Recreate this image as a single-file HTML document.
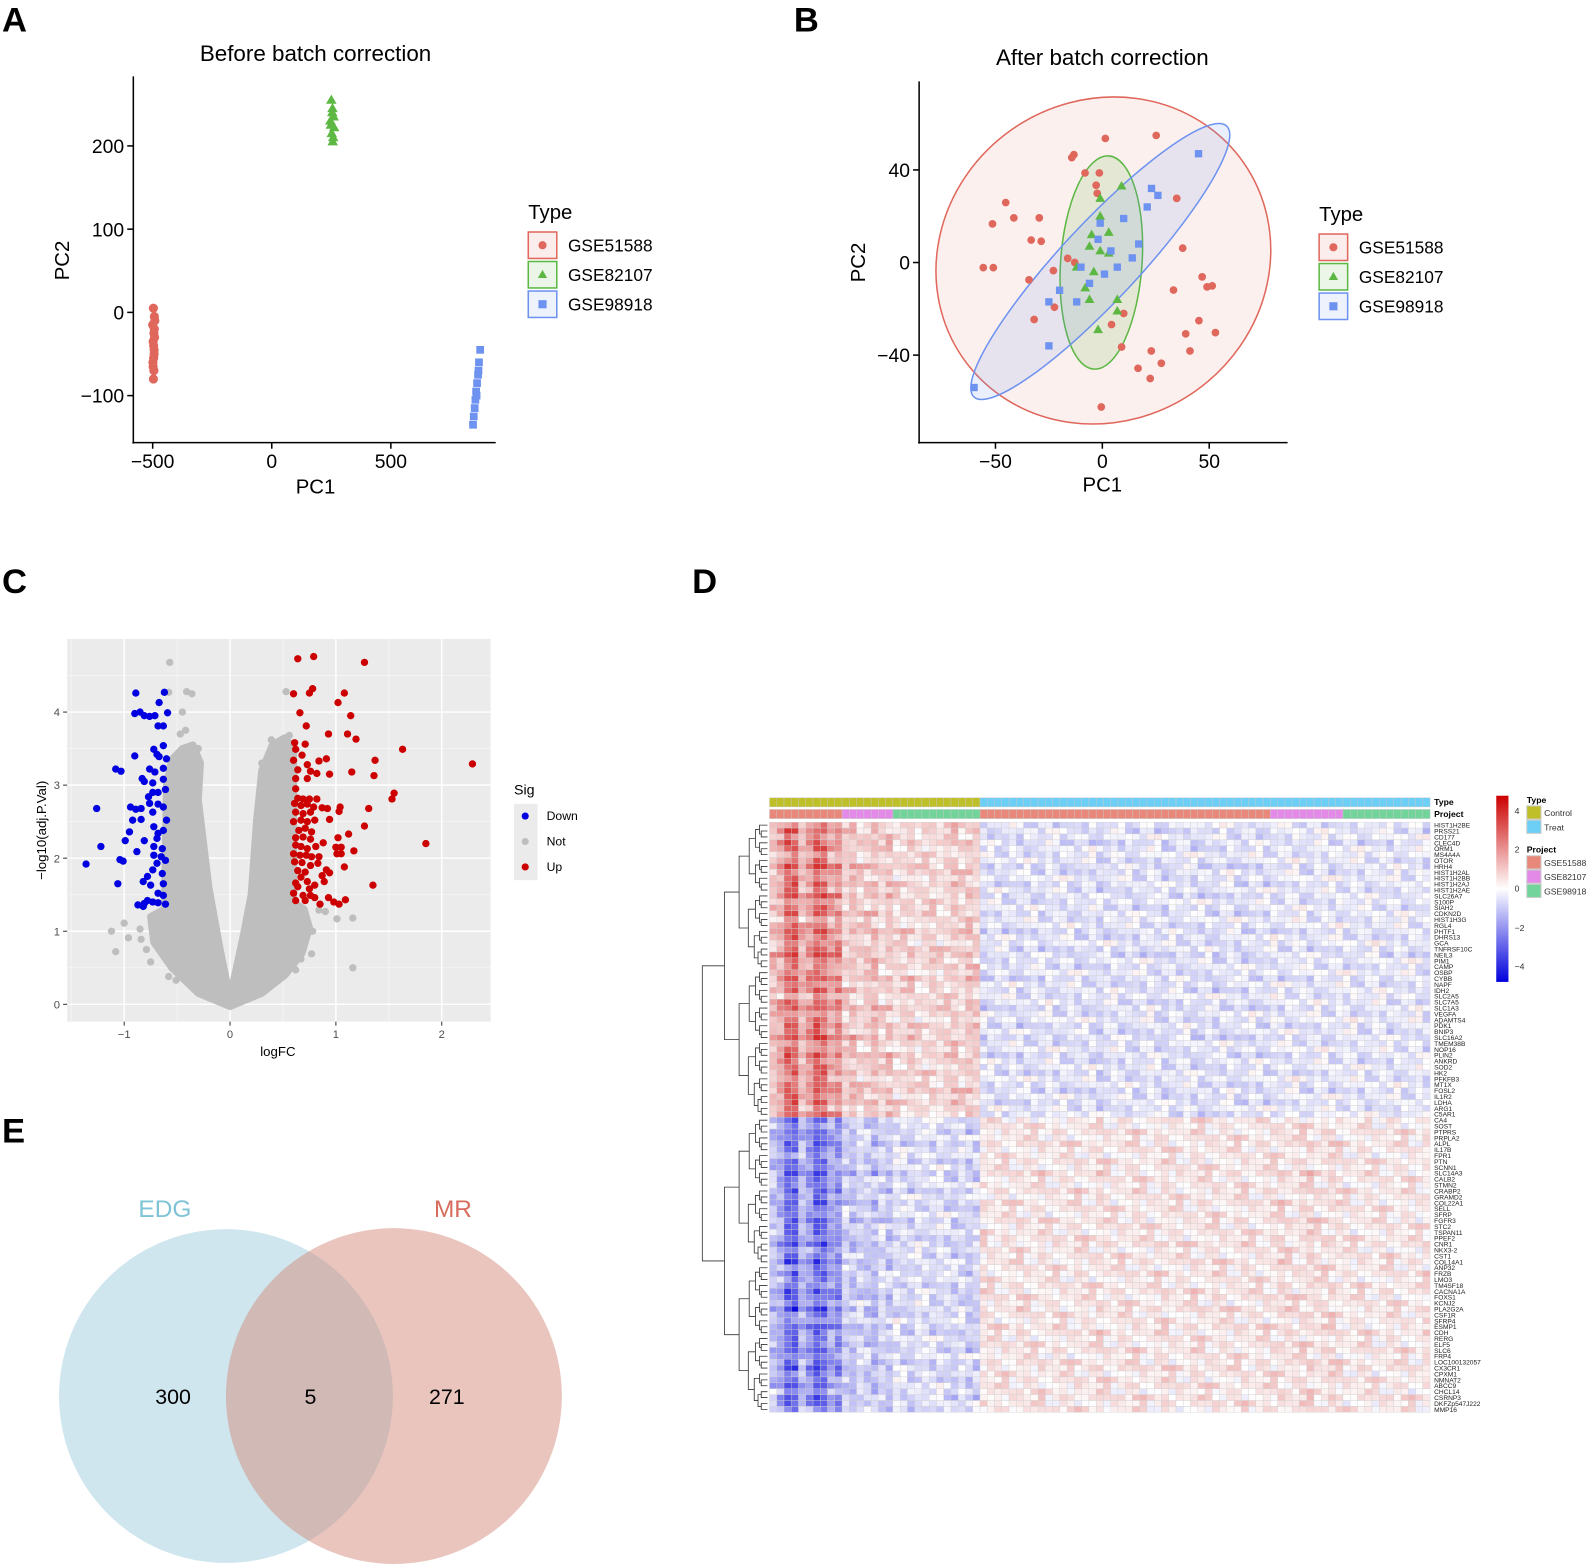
<!DOCTYPE html>
<html><head><meta charset="utf-8">
<style>
html,body{margin:0;padding:0;background:#fff;}
svg{display:block;font-family:"Liberation Sans",Arial,sans-serif;}
</style></head>
<body>
<svg id="fig" width="1596" height="1567" viewBox="0 0 1568 1540" preserveAspectRatio="none" xmlns="http://www.w3.org/2000/svg">
<!-- Panel A -->
<g>
<text x="2" y="31" font-size="34" font-weight="bold">A</text>
<text x="310" y="60" font-size="22" text-anchor="middle">Before batch correction</text>
<line x1="131" y1="75" x2="131" y2="436" stroke="#000" stroke-width="1.5"/>
<line x1="130" y1="435" x2="487" y2="435" stroke="#000" stroke-width="1.5"/>
<text x="310" y="485" font-size="20" text-anchor="middle">PC1</text>
<text transform="translate(68,256) rotate(-90)" font-size="20" text-anchor="middle">PC2</text>
<g id="axA"></g>
<g id="ptsA"></g>
<text x="519" y="215" font-size="20">Type</text>
<g id="legA"></g>
</g>
<!-- Panel B -->
<g>
<text x="780" y="31" font-size="34" font-weight="bold">B</text>
<text x="1083" y="64" font-size="22" text-anchor="middle">After batch correction</text>
<g id="ellB"></g>
<line x1="903" y1="80" x2="903" y2="436" stroke="#000" stroke-width="1.5"/>
<line x1="902" y1="435" x2="1265" y2="435" stroke="#000" stroke-width="1.5"/>
<text x="1083" y="483" font-size="20" text-anchor="middle">PC1</text>
<text transform="translate(850,258) rotate(-90)" font-size="20" text-anchor="middle">PC2</text>
<g id="axB"></g>
<g id="ptsB"></g>
<text x="1296" y="217" font-size="20">Type</text>
<g id="legB"></g>
</g>
<!-- Panel C -->
<g>
<text x="2" y="583" font-size="34" font-weight="bold">C</text>
<rect x="66" y="628" width="416" height="376" fill="#ebebeb"/>
<g id="gridC"></g>
<g id="ptsC"></g>
<text x="273" y="1038" font-size="13" text-anchor="middle">logFC</text>
<text transform="translate(45,816) rotate(-90)" font-size="13" text-anchor="middle">−log10(adj.P.Val)</text>
<text x="505" y="781" font-size="14">Sig</text>
<rect x="505" y="790" width="23" height="75" fill="#ebebeb"/>
<circle cx="516" cy="802" r="3.5" fill="#0000e0"/>
<circle cx="516" cy="827" r="3.5" fill="#bebebe"/>
<circle cx="516" cy="852" r="3.5" fill="#cc0000"/>
<text x="537" y="806" font-size="12">Down</text>
<text x="537" y="831" font-size="12">Not</text>
<text x="537" y="856" font-size="12">Up</text>
</g>
<!-- Panel D -->
<g>
<text x="680" y="583" font-size="34" font-weight="bold">D</text>
<g id="dendro"></g>
<g id="annot"></g>
<g id="heat"></g>
<g id="genes"></g>
<text x="1409" y="791" font-size="8.5" font-weight="bold">Type</text>
<text x="1409" y="803" font-size="8.5" font-weight="bold">Project</text>
<defs><linearGradient id="cbar" x1="0" y1="0" x2="0" y2="1">
<stop offset="0" stop-color="#cc0000"/><stop offset="0.5" stop-color="#ffffff"/><stop offset="1" stop-color="#0000dd"/></linearGradient></defs>
<rect x="1470" y="782" width="12" height="183" fill="url(#cbar)"/>
<g font-size="8.5" fill="#333">
<text x="1488" y="800">4</text>
<text x="1488" y="838">2</text>
<text x="1488" y="876">0</text>
<text x="1488" y="915">−2</text>
<text x="1488" y="953">−4</text>
</g>
<text x="1500" y="789" font-size="8.5" font-weight="bold">Type</text>
<rect x="1500" y="792" width="14" height="13" fill="#bfbf2a" stroke="#ccc"/>
<text x="1517" y="802" font-size="8.5" fill="#333">Control</text>
<rect x="1500" y="806" width="14" height="13" fill="#6dcff6" stroke="#ccc"/>
<text x="1517" y="816" font-size="8.5" fill="#333">Treat</text>
<text x="1500" y="838" font-size="8.5" font-weight="bold">Project</text>
<rect x="1500" y="841" width="14" height="13" fill="#e8887a" stroke="#ccc"/>
<text x="1517" y="851" font-size="8.5" fill="#333">GSE51588</text>
<rect x="1500" y="855" width="14" height="13" fill="#e38ae8" stroke="#ccc"/>
<text x="1517" y="865" font-size="8.5" fill="#333">GSE82107</text>
<rect x="1500" y="869" width="14" height="13" fill="#72d49a" stroke="#ccc"/>
<text x="1517" y="879" font-size="8.5" fill="#333">GSE98918</text>
</g>
<!-- Panel E -->
<g>
<text x="2" y="1123" font-size="34" font-weight="bold">E</text>
<circle cx="222" cy="1372" r="164" fill="#9fcde0" fill-opacity="0.5"/>
<circle cx="387" cy="1372" r="165" fill="#d48b7d" fill-opacity="0.5"/>
<text x="162" y="1196" font-size="24" fill="#7ec3d6" text-anchor="middle">EDG</text>
<text x="445" y="1196" font-size="24" fill="#d76d5c" text-anchor="middle">MR</text>
<text x="170" y="1380" font-size="21" text-anchor="middle">300</text>
<text x="305" y="1380" font-size="21" text-anchor="middle">5</text>
<text x="439" y="1380" font-size="21" text-anchor="middle">271</text>
</g>
</svg>
<script>
const NS="http://www.w3.org/2000/svg";
function mk(tag,attrs,parent){const e=document.createElementNS(NS,tag);for(const k in attrs)e.setAttribute(k,attrs[k]);parent.appendChild(e);return e;}
const $=id=>document.getElementById(id);

/* ---------- Panel A data ---------- */
const aRedPC1=[-497,-493,-500,-495,-491,-498,-494,-496,-492,-499,-495,-497,-493,-496,-494,-498];
const aRedPC2=[5,-5,-15,-25,-10,-35,-45,-55,-30,-60,-70,-80,-20,-40,-50,-65];
const aGreenPC1=[250,255,260,248,252,258,254,246,262,256];
const aGreenPC2=[255,245,235,225,215,210,240,230,222,205];
const aBluePC1=[875,870,866,862,858,855,852,848,845,868,860];
const aBluePC2=[-45,-60,-75,-85,-95,-105,-115,-125,-135,-70,-100];
const aXTicks=[-500,0,500];
const aYTicks=[-100,0,100,200];
const ax=v=>267+v*0.234, ay=v=>307-v*0.818;

/* ---------- Panel B data ---------- */
const bRedPC1=[-13.3,-14.3,1.4,25.2,-45.2,-51.4,-41.4,-29.5,-8.1,-2.9,-2.4,-33.3,-28.6,-55.7,-51,-34.3,-16.2,-12.9,-22.9,34.8,37.6,46.7,49,51.4,33.3,45.2,52.9,39,4.3,9,22.9,27.6,22.4,16.7,-0.5,41,-31.9,-22.4,10,-1.4];
const bRedPC2=[46.6,45.3,53.6,54.9,25.9,16.7,19.3,19.3,38.7,33.4,29.9,9.7,9.2,-2.2,-2.2,-7.5,1.8,0,-3.5,27.7,6.2,-6.2,-10.5,-10.1,-11.9,-25.1,-30.3,-30.8,-26.8,-36.5,-38.2,-43.5,-50.1,-45.7,-62.4,-38.2,-24.6,-19.3,-22,38.7];
const bGreenPC1=[9,-1,-1,-5,3,-6,-12,-4,-8,-6,7,7,-2,-1,3];
const bGreenPC2=[33,27.7,20,12,13,7,-2,-4,-11,-16,-16,-21,-29,5,4];
const bBluePC1=[45,23,26,21,10,-1,-2,4,17,14,7,1,-20,-25,-12,-25,-60,-10,-6];
const bBluePC2=[47,32,29,24,19,17,10,5,8,2,-2,-5,-12,-17,-17,-36,-54,-2,-9];
const bXTicks=[-50,0,50];
const bYTicks=[-40,0,40];
const bx=v=>1083+v*2.1, by=v=>258-v*2.275;

const cRed="#e0675c", cGreen="#5cb843", cBlue="#6d92f0";

function marker(g,shape,x,y,col,s){
  let e;
  if(shape==="c") e=mk("circle",{cx:x,cy:y,r:s,fill:col},g);
  else if(shape==="t") e=mk("polygon",{points:`${x},${y-s*1.2} ${x-s*1.15},${y+s*0.8} ${x+s*1.15},${y+s*0.8}`,fill:col},g);
  else e=mk("rect",{x:x-s,y:y-s,width:2*s,height:2*s,fill:col},g);
  return e;
}
function ticks(g,xt,yt,fx,fy,x0,y0,fs){
  xt.forEach(v=>{const l=mk("line",{x1:fx(v),x2:fx(v),y1:y0,y2:y0+6,stroke:"#000","stroke-width":1.5},g);
    
    
    const t=mk("text",{x:fx(v),y:y0+25,"font-size":fs,"text-anchor":"middle"},g);t.textContent=(v<0?"−"+(-v):v);
    
    });
  yt.forEach(v=>{const l=mk("line",{x1:x0-6,x2:x0,y1:fy(v),y2:fy(v),stroke:"#000","stroke-width":1.5},g);
    
    
    const t=mk("text",{x:x0-9,y:fy(v)+7,"font-size":fs,"text-anchor":"end"},g);t.textContent=(v<0?"−"+(-v):v);
    
    });
}
ticks($("axA"),aXTicks,aYTicks,ax,ay,131,435,19);
ticks($("axB"),bXTicks,bYTicks,bx,by,903,435,19);

function series(g,X,Y,fx,fy,shape,col,s,name){
  X.forEach((v,i)=>{const e=marker(g,shape,fx(v),fy(Y[i]),col,s);
    
    });
}
series($("ptsA"),aRedPC1,aRedPC2,ax,ay,"c",cRed,4.5,"point-gse51588");
series($("ptsA"),aGreenPC1,aGreenPC2,ax,ay,"t",cGreen,4.5,"point-gse82107");
series($("ptsA"),aBluePC1,aBluePC2,ax,ay,"s",cBlue,3.8,"point-gse98918");

const eg=$("ellB");
let el=mk("ellipse",{cx:1084,cy:256,rx:168,ry:157,transform:"rotate(-35 1084 256)",fill:cRed,"fill-opacity":0.1,stroke:cRed,"stroke-width":1.5},eg);


el=mk("ellipse",{cx:1082,cy:258,rx:40,ry:105,transform:"rotate(4 1082 258)",fill:cGreen,"fill-opacity":0.15,stroke:cGreen,"stroke-width":1.5},eg);


el=mk("ellipse",{cx:1081,cy:257,rx:182,ry:38,transform:"rotate(-47 1081 257)",fill:cBlue,"fill-opacity":0.15,stroke:cBlue,"stroke-width":1.5},eg);


series($("ptsB"),bRedPC1,bRedPC2,bx,by,"c",cRed,3.8,"point-gse51588");
series($("ptsB"),bGreenPC1,bGreenPC2,bx,by,"t",cGreen,4.2,"point-gse82107");
series($("ptsB"),bBluePC1,bBluePC2,bx,by,"s",cBlue,3.6,"point-gse98918");

const legNames=["GSE51588","GSE82107","GSE98918"],legCols=[cRed,cGreen,cBlue],legShapes=["c","t","s"];
function legend(g,x,y0){
  legNames.forEach((n,i)=>{const y=y0+i*29;
    const r=mk("rect",{x:x,y:y-13,width:28,height:26,fill:legCols[i],"fill-opacity":0.12,stroke:legCols[i],"stroke-width":1.5},g);
    
    
    const m=marker(g,legShapes[i],x+14,y,legCols[i],4);
    
    
    const t=mk("text",{x:x+39,y:y+6,"font-size":17},g);t.textContent=n;
    
    });
}
legend($("legA"),519,241);
legend($("legB"),1296,243);

/* ---------- Panel C data ---------- */
const downFC=[-0.89,-0.62,-0.67,-0.9,-0.85,-0.81,-0.76,-0.71,-0.59,-0.68,-0.63,-0.72,-0.63,-0.9,-0.69,-0.67,-0.6,-1.08,-1.03,-0.76,-0.71,-0.63,-0.83,-0.81,-0.73,-0.63,-0.73,-0.68,-0.61,-0.77,-0.76,-0.68,-1.26,-0.94,-0.89,-0.84,-0.73,-0.63,-0.92,-0.84,-0.6,-0.95,-0.72,-0.68,-0.63,-0.99,-0.81,-0.69,-1.22,-0.88,-0.72,-0.64,-1.04,-0.72,-0.65,-1.36,-1.01,-0.69,-0.61,-0.73,-0.64,-0.78,-1.06,-0.82,-0.75,-0.63,-0.63,-0.68,-0.87,-0.81,-0.78,-0.73,-0.68,-0.61,-0.82];
const downP=[4.26,4.27,4.13,3.98,4.0,3.95,3.94,3.95,3.99,3.81,3.81,3.49,3.54,3.4,3.42,3.39,3.36,3.22,3.19,3.22,3.18,3.23,3.09,3.05,3.03,3.08,2.9,2.9,2.94,2.84,2.75,2.74,2.68,2.7,2.67,2.68,2.63,2.7,2.52,2.53,2.52,2.36,2.43,2.34,2.38,2.24,2.24,2.27,2.16,2.09,2.16,2.13,1.98,2.04,2.02,1.92,1.96,1.93,1.97,1.84,1.79,1.75,1.65,1.68,1.63,1.65,1.49,1.52,1.36,1.38,1.42,1.4,1.39,1.37,1.34];
const upFC=[0.64,0.79,1.27,0.6,0.75,0.78,1.08,1.02,0.66,1.14,0.72,0.93,1.11,1.19,0.61,0.71,1.63,0.62,0.68,0.91,0.6,0.84,1.37,0.73,0.64,0.76,0.94,1.15,0.82,1.36,2.29,0.62,0.73,0.62,1.55,1.53,0.64,0.69,0.75,0.82,0.61,0.67,0.73,0.79,0.87,0.92,1.04,1.31,0.62,0.69,0.76,1.03,0.6,0.67,0.73,0.8,0.94,0.65,0.71,0.77,1.27,0.62,0.69,0.76,1.02,1.12,0.88,0.62,0.67,0.73,0.81,1.0,1.05,1.17,1.85,0.6,0.66,0.72,0.77,0.84,1.01,1.05,0.61,0.68,0.76,0.83,1.08,0.64,0.71,0.91,0.94,0.87,0.67,0.62,0.73,0.89,1.35,0.8,0.64,0.75,0.6,0.69,0.76,0.8,0.93,0.62,0.71,0.85,0.98,1.03,1.09];
const upP=[4.73,4.76,4.68,4.25,4.26,4.32,4.26,4.13,3.99,3.95,3.81,3.7,3.7,3.63,3.58,3.56,3.49,3.49,3.41,3.36,3.34,3.33,3.34,3.28,3.21,3.19,3.15,3.18,3.16,3.13,3.29,3.09,3.09,2.95,2.89,2.81,2.82,2.81,2.81,2.81,2.75,2.72,2.74,2.7,2.69,2.68,2.7,2.68,2.63,2.61,2.63,2.64,2.5,2.52,2.5,2.52,2.53,2.38,2.41,2.36,2.44,2.28,2.29,2.26,2.28,2.33,2.21,2.18,2.16,2.13,2.16,2.15,2.15,2.1,2.2,2.06,2.04,2.04,2.02,2.02,2.06,2.06,1.95,1.94,1.9,1.93,1.88,1.83,1.81,1.84,1.8,1.76,1.74,1.66,1.68,1.68,1.63,1.63,1.61,1.58,1.52,1.49,1.49,1.46,1.46,1.42,1.42,1.37,1.4,1.37,1.43];
const notFC=[-0.57,-0.58,-0.41,-0.36,-0.45,-0.47,-0.42,0.53,0.39,0.56,-1.0,-1.12,-1.08,-0.96,-0.85,-0.84,-0.79,-0.75,-0.71,0.78,0.77,0.67,1.16,1.01,1.16,0.9,0.84,-0.58,-0.51,0.62,-0.52,-0.5,0.45,0.48,-0.4,0.3,-0.3];
const notP=[4.68,4.27,4.28,4.25,4.0,3.7,3.75,4.28,3.62,3.68,1.11,1.0,0.72,0.91,1.03,0.89,0.75,0.58,0.83,1.0,0.69,0.62,1.18,1.17,0.5,1.27,1.29,0.38,0.33,0.47,3.2,2.9,3.3,3.1,3.45,3.3,3.5];
const cloudFC=[0,-0.3,-0.55,-0.72,-0.75,-0.62,-0.6,-0.55,-0.45,-0.35,-0.28,-0.3,-0.2,-0.1,-0.03,0,0.03,0.12,0.2,0.25,0.3,0.4,0.52,0.6,0.6,0.7,0.75,0.68,0.52,0.3];
const cloudP=[-0.03,0.15,0.5,0.85,1.2,1.3,3.0,3.35,3.5,3.55,3.3,2.8,1.6,0.8,0.3,0.1,0.3,0.9,1.5,2.5,3.2,3.55,3.65,3.5,1.4,1.3,1.05,0.7,0.4,0.15];
const cXTicks=[-1,0,1,2], cYTicks=[0,1,2,3,4];
const cx=v=>226+v*104, cy=v=>987-v*71.8;

const gc=$("gridC");
[-1.5,-0.5,0.5,1.5].forEach(v=>{const l=mk("line",{x1:cx(v),x2:cx(v),y1:628,y2:1004,stroke:"#f7f7f7","stroke-width":0.7},gc);
  
  });
[0.5,1.5,2.5,3.5,4.5].forEach(v=>{const l=mk("line",{x1:66,x2:482,y1:cy(v),y2:cy(v),stroke:"#f7f7f7","stroke-width":0.7},gc);
  
  });
cXTicks.forEach(v=>{const l=mk("line",{x1:cx(v),x2:cx(v),y1:628,y2:1004,stroke:"#fff","stroke-width":1.4},gc);
  
  
  const k=mk("line",{x1:cx(v),x2:cx(v),y1:1004,y2:1008,stroke:"#333"},gc);
  
  
  const t=mk("text",{x:cx(v),y:1020,"font-size":11,fill:"#4d4d4d","text-anchor":"middle"},gc);t.textContent=v<0?"−"+(-v):v;
  
  });
cYTicks.forEach(v=>{const l=mk("line",{x1:66,x2:482,y1:cy(v),y2:cy(v),stroke:"#fff","stroke-width":1.4},gc);
  
  
  const k=mk("line",{x1:62,x2:66,y1:cy(v),y2:cy(v),stroke:"#333"},gc);
  
  
  const t=mk("text",{x:59,y:cy(v)+4,"font-size":11,fill:"#4d4d4d","text-anchor":"end"},gc);t.textContent=v;
  
  });

const pc=$("ptsC");
const cloud=mk("polygon",{points:cloudFC.map((v,i)=>cx(v)+","+cy(cloudP[i])).join(" "),fill:"#bebebe",stroke:"#bebebe","stroke-width":7,"stroke-linejoin":"round"},pc);


series(pc,notFC,notP,cx,cy,"c","#bebebe",3.6,"point-not");
series(pc,downFC,downP,cx,cy,"c","#0000e0",3.6,"point-down");
series(pc,upFC,upP,cx,cy,"c","#cc0000",3.6,"point-up");

/* ---------- Panel D data ---------- */
const groupSizes=[10,7,12,40,10,12];
const groupType=["Control","Control","Control","Treat","Treat","Treat"];
const groupProject=["GSE51588","GSE82107","GSE98918","GSE51588","GSE82107","GSE98918"];
const clusterTopMeans=[1.8,0.9,0.7,-0.5,-0.4,-0.4];
const clusterBottomMeans=[-1.8,-0.9,-0.6,0.35,0.45,0.3];
const rowStrength=[0.9,1.1,0.8,1.2,1.0,0.7,0.9,1.3,1.0,0.8,1.1,0.9,1.2,0.8,1.0,1.1,0.7,0.9,1.2,1.0,0.8,1.1,1.3,0.9,1.0,0.8,1.2,0.9,1.1,0.7,1.0,1.2,0.9,0.8,1.1,1.0,1.3,0.9,0.8,1.2,1.0,0.9,1.1,0.8,1.0,1.2,0.9,1.1,0.8,1.0,
1.0,0.8,1.1,0.9,1.2,1.0,0.7,1.1,0.9,1.3,1.0,0.8,1.2,0.9,1.1,1.0,0.8,1.2,1.0,0.9,1.1,1.3,0.8,1.0,1.2,0.9,1.1,0.8,1.0,1.2,1.1,0.9,1.3,1.0,0.8,1.2,1.1,0.9,1.0,1.2,0.8,1.1,1.3,0.9,1.0,1.1,0.8,1.2,1.0,0.9];
const colStrength=[0.6,0.8,1.4,1.5,0.7,1.0,1.5,1.4,0.9,1.1, 0.9,1.2,0.8,1.0,1.3,0.7,1.1, 0.8,1.0,1.2,0.7,0.9,1.1,0.8,1.0,1.3,0.9,1.4,1.2,
1.2,1.0,0.9,1.1,0.8,1.3,1.0,0.9,1.2,0.7,1.1,1.0,0.8,1.2,1.0,0.9,1.4,1.0,0.8,1.1,0.9,1.2,1.0,0.7,1.1,1.3,0.9,1.0,0.8,1.2,1.1,0.9,1.3,1.0,0.8,1.1,1.2,0.9,1.0,1.1,
0.9,1.2,1.0,0.8,1.1,1.3,0.9,1.0,1.2,0.8, 1.0,0.9,1.2,1.1,0.8,1.0,1.3,0.9,1.1,1.0,0.8,1.4];
const cellResidual=[0.2,-0.35,0.05,0.55,-0.1,-0.6,0.3,0.0,-0.25,0.7,-0.5,0.1,0.35,-0.2,-0.8,0.25,0.5,-0.05,-0.4,0.0,0.6,-0.3,0.1,-0.55,0.4,0.05,-0.1,0.85,-0.35,0.2,-0.65,0.3,0.0,-0.25,0.55,-0.1,0.35];
const geneNames=["HIST1H2BE","PRSS21","CD177","CLEC4D","ORM1","MS4A4A","OTOR","HRH4","HIST1H2AL","HIST1H2BB","HIST1H2AJ","HIST1H2AE","SLC26A7","S100P","SIAH2","CDKN2D","HIST1H3G","RGL4","PHTF1","DHRS13","GCA","TNFRSF10C","NEIL3","PIM1","CAMP","OSBP","CYBB","NAPF","IDH2","SLC2A5","SLC7A5","SLC1A3","VEGFA","ADAMTS4","PDK1","BNIP3","SLC16A2","TMEM38B","NOP16","PLIN2","ANKRD","SOD2","HK2","PFKFB3","MT1X","FOSL2","IL1R2","LDHA","ARG1","C5AR1",
"CA4","SOST","PTPRS","PRPLA2","ALPL","IL17B","FPR1","PTN","SCNN1","SLC14A3","CALB2","STMN2","CRABP2","GRAMD2","COL22A1","SELL","SFRP","FGFR3","STC2","TSPAN11","PPEF2","CNR1","NKX3-2","CST1","COL14A1","ANP32","FRZB","LMO3","TM4SF18","CACNA1A","FOXS1","KCNJ2","PLA2G2A","CSF1R","SFRP4","ESMP1","CDH","RERG","ELF5","SLC6","FRP4","LOC100132057","CX3CR1","CPXM1","NMNAT2","ABCC9","CHCL14","CSRNP3","DKFZp547J222","MMP16"];

const nCol=groupSizes.reduce((a,b)=>a+b,0), nRow=rowStrength.length;
const hx0=756,hx1=1405,hy0=808,hy1=1388;
const cw=(hx1-hx0)/nCol, rh=(hy1-hy0)/nRow;
function colorOf(v){v=Math.max(-4.5,Math.min(4.5,v));const t=Math.abs(v)/4.5;
  if(v>=0)return `rgb(${Math.round(255-t*51)},${Math.round(255-t*255)},${Math.round(255-t*255)})`;
  return `rgb(${Math.round(255-t*255)},${Math.round(255-t*255)},${Math.round(255-t*35)})`;}
const typeCol={Control:"#bfbf2a",Treat:"#6dcff6"}, projCol={GSE51588:"#e8887a",GSE82107:"#e38ae8",GSE98918:"#72d49a"};
const hg=$("heat"), ag=$("annot");
let c=0;
groupSizes.forEach((n,g)=>{for(let k=0;k<n;k++,c++){
  const x=hx0+c*cw;
  const a1=mk("rect",{x:x,y:784,width:cw,height:9,fill:typeCol[groupType[g]],stroke:"#c8c8c8","stroke-width":0.4},ag);
  
  
  const a2=mk("rect",{x:x,y:795.5,width:cw,height:9,fill:projCol[groupProject[g]],stroke:"#c8c8c8","stroke-width":0.4},ag);
  
  
  for(let r=0;r<nRow;r++){
    const m=(r<nRow/2?clusterTopMeans:clusterBottomMeans)[g];
    const v=m*rowStrength[r]*colStrength[c]+cellResidual[(r*13+c*7)%cellResidual.length];
    const cell=mk("rect",{x:x,y:hy0+r*rh,width:cw,height:rh,fill:colorOf(v),stroke:"#cfcfcf","stroke-width":0.35},hg);
    
    
  }}});
const gg=$("genes");
geneNames.forEach((n,r)=>{const t=mk("text",{x:1409,y:hy0+r*rh+rh*0.5+2.4,"font-size":6.5,fill:"#222"},gg);t.textContent=n;
  
  });

const dg=$("dendro");
function tree(a,b){
  if(b-a===1)return{y:hy0+(a+0.5)*rh,x:754};
  const m=Math.floor((a+b)/2);const L=tree(a,m),R=tree(m,b);
  const x=754-64*Math.pow((b-a)/nRow,0.6);
  const p=mk("path",{d:`M${L.x},${L.y}H${x}V${R.y}H${R.x}`,fill:"none",stroke:"#333","stroke-width":0.8},dg);
  
  
  return{y:(L.y+R.y)/2,x:x};
}
tree(0,nRow);
</script>
</body></html>
